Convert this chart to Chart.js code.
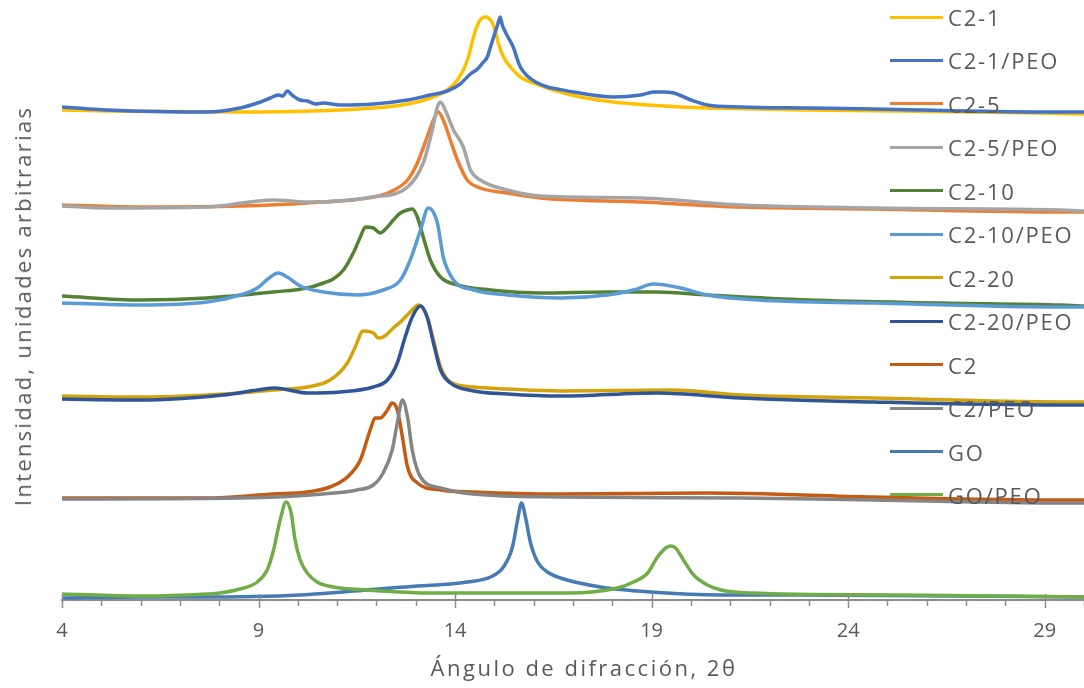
<!DOCTYPE html>
<html>
<head>
<meta charset="utf-8">
<script src="https://cdn.jsdelivr.net/npm/chart.js@4.4.0/dist/chart.umd.min.js"></script>
<style>
  body { margin: 0; background: #fff; }
  #wrap { position: relative; width: 1084px; height: 688px; font-family: 'Open Sans', sans-serif; color: #595959; overflow: hidden; }
  #xrd { position: absolute; left: 0; top: 0; }
  .title { position: absolute; font-size: 22px; line-height: 30px; white-space: nowrap; }
  #xTitle { left: 584px; top: 652px; letter-spacing: 2.5px; transform: translateX(-50%); }
  #yTitle { left: 22px; top: 306px; letter-spacing: 2.3px; transform: translate(-50%, -50%) rotate(-90deg); }
  .legRow { position: absolute; left: 890px; height: 30px; line-height: 30px; font-size: 22px; letter-spacing: 1.8px; white-space: nowrap; }
  .legRow .swatch { position: absolute; left: 0; top: 13.5px; width: 53px; height: 3px; }
  .legRow .txt { position: absolute; left: 58px; top: 0; }
</style>
</head>
<body>
<div id="wrap">
  <canvas id="xrd" width="1084" height="688"></canvas>
  <div id="xTitle" class="title">Ángulo de difracción, 2θ</div>
  <div id="yTitle" class="title">Intensidad, unidades arbitrarias</div>
  <div id="legend"></div>
</div>
<script>
// 2θ (degrees) and intensity (arbitrary units, curves stacked with offsets)
const c21Theta = [4.0, 5.15, 8.53, 11.92, 12.79, 13.37, 13.80, 14.06, 14.21, 14.34, 14.47, 14.57, 14.64, 14.77, 14.85, 14.95, 15.03, 15.10, 15.23, 15.41, 15.66, 15.99, 16.50, 17.19, 18.03, 18.90, 19.74, 20.42, 22.97, 28.90, 30.0];
const c21Int   = [490, 489, 488, 492, 496, 502, 510, 520, 530, 543, 563, 575, 580, 583, 582, 577, 568, 557, 543, 533, 523, 517, 510, 503, 498, 495, 493, 492, 490, 487, 486];

const c21peoTheta = [4.0, 5.15, 7.69, 8.53, 8.97, 9.30, 9.50, 9.62, 9.73, 9.88, 10.05, 10.24, 10.45, 10.65, 11.08, 11.92, 12.79, 13.37, 13.80, 14.13, 14.39, 14.57, 14.70, 14.82, 14.90, 14.98, 15.08, 15.15, 15.20, 15.28, 15.36, 15.48, 15.59, 15.66, 15.84, 16.05, 16.35, 16.60, 17.01, 18.03, 18.72, 19.05, 19.30, 19.56, 20.00, 20.42, 21.27, 22.97, 24.65, 28.90, 30.0];
const c21peoInt   = [493, 490, 488, 492, 497, 502, 505, 504, 509, 504, 500, 499, 496, 497, 495, 496, 500, 505, 509, 516, 526, 531, 537, 543, 553, 563, 575, 583, 575, 568, 562, 553, 540, 533, 524, 518, 513, 511, 508, 503, 505, 508, 508, 507, 500, 495, 493, 492, 491, 488, 488];

const c25Theta = [4.0, 5.99, 8.53, 10.24, 11.92, 12.35, 12.79, 13.04, 13.29, 13.45, 13.57, 13.70, 13.88, 14.06, 14.31, 14.64, 15.33, 16.17, 18.72, 21.27, 24.65, 29.41, 30.0];
const c25Int   = [395, 393, 394, 397, 403, 408, 420, 437, 463, 480, 488, 480, 460, 440, 420, 412, 407, 402, 398, 393, 391, 388, 388];

const c25peoTheta = [4.0, 5.15, 7.69, 9.37, 10.24, 11.92, 12.79, 13.19, 13.42, 13.55, 13.63, 13.75, 13.96, 14.21, 14.39, 14.64, 15.33, 16.17, 18.72, 21.27, 24.65, 29.41, 30.0];
const c25peoInt   = [394, 392, 393, 400, 398, 403, 413, 437, 470, 493, 498, 490, 470, 453, 430, 420, 410, 404, 402, 395, 392, 390, 389];

const c210Theta = [4.0, 5.99, 7.69, 9.37, 10.24, 10.65, 10.90, 11.16, 11.41, 11.59, 11.72, 11.92, 12.10, 12.28, 12.43, 12.61, 12.79, 12.91, 13.04, 13.19, 13.37, 13.63, 14.06, 14.90, 16.17, 17.88, 19.15, 20.42, 22.97, 26.36, 29.41, 30.0];
const c210Int   = [304, 300, 302, 308, 312, 317, 321, 330, 347, 363, 373, 372, 367, 373, 380, 387, 390, 391, 383, 363, 340, 323, 315, 310, 307, 308, 308, 305, 300, 297, 295, 294];

const c210peoTheta = [4.0, 5.99, 7.69, 8.53, 8.97, 9.30, 9.50, 9.73, 10.06, 10.65, 11.51, 12.17, 12.61, 12.86, 13.12, 13.32, 13.55, 13.70, 13.96, 14.47, 15.33, 16.68, 17.88, 18.54, 19.05, 19.74, 20.42, 21.70, 24.65, 29.41, 30.0];
const c210peoInt   = [297, 295, 298, 305, 312, 323, 327, 323, 314, 308, 305, 310, 320, 340, 370, 392, 377, 343, 320, 310, 305, 302, 305, 310, 316, 312, 305, 300, 297, 293, 293];

const c220Theta = [4.0, 5.99, 8.53, 9.37, 10.24, 10.82, 11.26, 11.46, 11.66, 11.92, 12.05, 12.17, 12.43, 12.61, 12.86, 13.07, 13.29, 13.45, 13.63, 13.88, 14.47, 15.33, 16.68, 19.56, 21.27, 24.65, 29.41, 30.0];
const c220Int   = [204, 203, 207, 210, 213, 220, 237, 253, 269, 267, 262, 263, 272, 278, 288, 295, 283, 260, 233, 218, 213, 211, 209, 210, 205, 202, 198, 198];

const c220peoTheta = [4.0, 5.99, 8.10, 8.97, 9.42, 10.24, 11.08, 11.92, 12.28, 12.53, 12.73, 12.91, 13.12, 13.29, 13.45, 13.63, 13.88, 14.47, 15.33, 16.68, 19.15, 21.27, 24.65, 29.41, 30.0];
const c220peoInt   = [201, 200, 205, 210, 212, 207, 208, 213, 220, 237, 263, 283, 294, 283, 257, 230, 217, 209, 206, 204, 207, 202, 198, 195, 195];

const c2Theta = [4.0, 7.69, 9.37, 10.24, 10.82, 11.26, 11.59, 11.84, 11.97, 12.10, 12.28, 12.40, 12.53, 12.66, 12.79, 13.04, 13.63, 14.47, 16.68, 20.42, 24.65, 29.41, 30.0];
const c2Int   = [102, 102, 106, 108, 113, 123, 140, 170, 182, 182, 190, 197, 190, 163, 133, 117, 110, 108, 106, 107, 103, 100, 100];

const c2peoTheta = [4.0, 8.53, 10.65, 11.51, 11.92, 12.17, 12.40, 12.53, 12.66, 12.79, 12.91, 13.12, 13.63, 14.47, 16.68, 21.27, 24.65, 29.41, 30.0];
const c2peoInt   = [101, 102, 106, 110, 115, 127, 150, 177, 200, 183, 150, 123, 112, 106, 103, 102, 100, 97, 97];

const goTheta = [4.0, 5.99, 7.51, 10.06, 11.77, 13.04, 13.88, 14.31, 14.90, 15.23, 15.46, 15.59, 15.69, 15.79, 15.92, 16.10, 16.35, 16.68, 17.70, 18.97, 20.76, 22.79, 30.0];
const goInt   = [2, 3, 3, 5, 10, 14, 16, 18, 23, 33, 53, 80, 97, 83, 57, 38, 28, 22, 13, 8, 5, 5, 3];

const gopeoTheta = [4.0, 5.99, 7.69, 8.02, 8.53, 8.97, 9.22, 9.37, 9.55, 9.70, 9.83, 9.93, 10.06, 10.24, 10.49, 10.90, 11.77, 13.45, 16.86, 18.13, 18.54, 18.90, 19.15, 19.36, 19.48, 19.61, 19.81, 20.07, 20.42, 20.76, 21.52, 25.34, 30.0];
const gopeoInt   = [6, 4, 6, 7, 11, 18, 30, 48, 80, 98, 87, 60, 40, 27, 18, 13, 10, 7, 7, 12, 18, 27, 43, 52, 54, 52, 40, 25, 15, 10, 7, 5, 3];

const seriesNames = ['C2-1', 'C2-1/PEO', 'C2-5', 'C2-5/PEO', 'C2-10', 'C2-10/PEO', 'C2-20', 'C2-20/PEO', 'C2', 'C2/PEO', 'GO', 'GO/PEO'];
const seriesColors = ['#FFC000', '#4472C4', '#ED7D31', '#A5A5A5', '#548235', '#5B9BD5', '#D4A20A', '#2F5597', '#C55A11', '#858585', '#467BB4', '#70AD47'];
const thetaTicks = [4, 9, 14, 19, 24, 29];

const seriesData = [
    [c21Theta, c21Int], [c21peoTheta, c21peoInt],
    [c25Theta, c25Int], [c25peoTheta, c25peoInt],
    [c210Theta, c210Int], [c210peoTheta, c210peoInt],
    [c220Theta, c220Int], [c220peoTheta, c220peoInt],
    [c2Theta, c2Int], [c2peoTheta, c2peoInt],
    [goTheta, goInt], [gopeoTheta, gopeoInt]
];

const datasets = seriesData.map(([xs, ys], i) => ({
    label: seriesNames[i],
    data: xs.map((x, j) => ({ x: x, y: ys[j] })),
    borderColor: seriesColors[i],
    borderWidth: 3.5,
    pointRadius: 0,
    fill: false,
    cubicInterpolationMode: 'monotone',
    order: seriesNames.length - i   // later series drawn on top, like the original
}));

// major ticks cross the axis, minor ticks hang below it
const axisTicks = {
    id: 'axisTicks',
    afterDraw(chart) {
        const sx = chart.scales.x;
        const ctx = chart.ctx;
        const base = chart.chartArea.bottom;
        ctx.save();
        ctx.strokeStyle = '#8c8c8c';
        ctx.lineWidth = 1.5;
        for (let v = sx.min; v <= sx.max; v++) {
            const px = Math.round(sx.getPixelForValue(v)) + 0.5;
            const major = (v - 4) % 5 === 0;
            ctx.beginPath();
            ctx.moveTo(px, major ? base - 6 : base);
            ctx.lineTo(px, major ? base + 8 : base + 6);
            ctx.stroke();
        }
        ctx.restore();
    }
};

new Chart(document.getElementById('xrd').getContext('2d'), {
    type: 'line',
    data: { datasets: datasets },
    options: {
        responsive: false,
        animation: false,
        devicePixelRatio: 1,
        events: [],
        layout: { padding: { left: 62, top: 0, right: 0, bottom: 0 } },
        plugins: { legend: { display: false }, tooltip: { enabled: false } },
        scales: {
            x: {
                type: 'linear',
                min: 4,
                max: 30,
                afterBuildTicks: (scale) => { scale.ticks = thetaTicks.map(v => ({ value: v })); },
                afterFit: (scale) => { scale.height = 88; },
                grid: { drawOnChartArea: false, drawTicks: false },
                border: { display: true, color: '#8c8c8c', width: 2 },
                ticks: {
                    autoSkip: false,
                    maxRotation: 0,
                    padding: 19,
                    color: '#595959',
                    font: { family: 'Open Sans', size: 20 }
                }
            },
            y: { display: false, min: 0, max: 600 }
        }
    },
    plugins: [axisTicks]
});

// legend sits over the plot, like the original
const legend = document.getElementById('legend');
seriesNames.forEach((name, i) => {
    const row = document.createElement('div');
    row.className = 'legRow';
    row.style.top = (17 + i * 43.45 - 15) + 'px';
    row.innerHTML = `<span class="swatch" style="background:${seriesColors[i]}"></span><span class="txt">${name}</span>`;
    legend.appendChild(row);
});
</script>
</body>
</html>
